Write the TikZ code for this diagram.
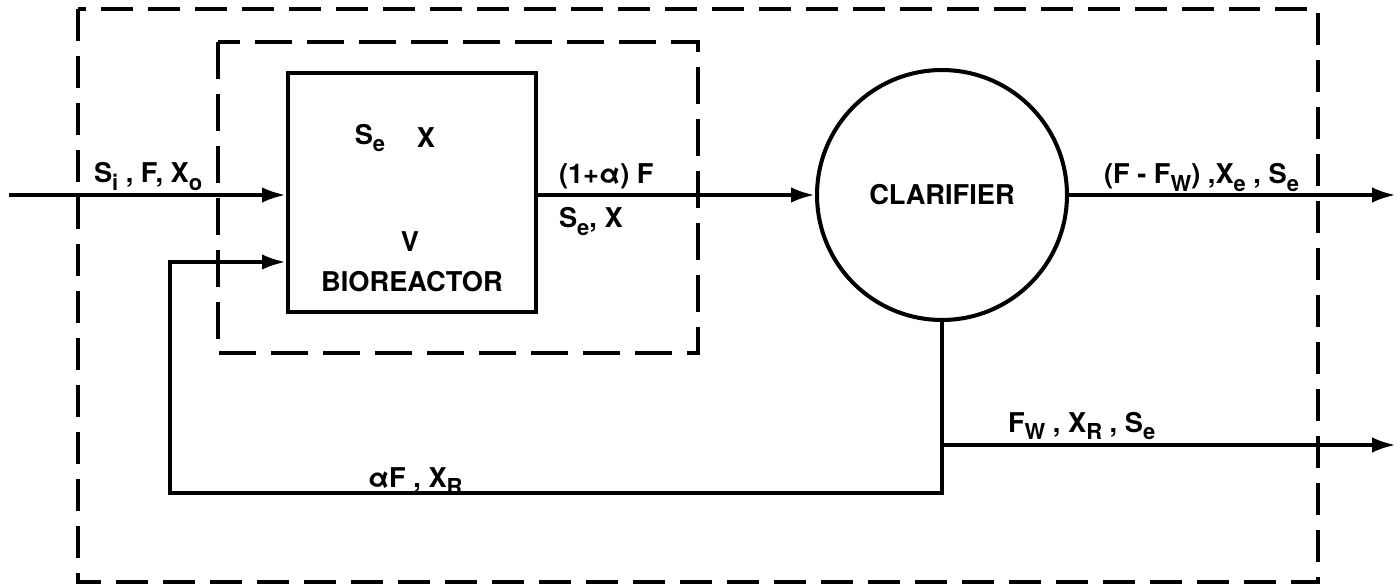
\documentclass[tikz,border=0pt]{standalone}
\usepackage{fontspec}
\setmainfont{TeX Gyre Heros}
\usepackage{tikz}
\usetikzlibrary{arrows.meta, positioning, calc}

\newcommand{\lowidx}[1]{\raisebox{-0.5ex}{\fontsize{12.5}{12.5}\selectfont #1}}

\begin{document}
\begin{tikzpicture}[
    x=0.02cm, y=-0.02cm,
    font=\fontsize{15.5}{18}\selectfont\bfseries,
    line width=2.3pt,
    box/.style={draw, rectangle, minimum width=4.96cm, minimum height=4.78cm},
    tank/.style={draw, circle, minimum size=5cm, inner sep=0pt},
    bound/.style={line width=2pt, dash pattern=on 0.64cm off 0.3cm},
    arrow/.style={-{Latex[length=0.48cm,width=0.31cm]}},
    lbl/.style={anchor=base west, inner sep=0pt}
]
\useasboundingbox (0,0) rectangle (1396,587);

% control volumes
\draw [bound] (78,9) rectangle (1318,582);
\draw [bound, dash pattern=on 0.74cm off 0.3cm] (218,42) rectangle (698,353);

\node (reactor) [box] at (412,192.5) {};
\node (clar) [tank] at (942,195) {CLARIFIER};

\node (se) at (370,138) {S\lowidx{e}};
\node (xx) at (426,138) {X};
\node (vol) at (410,242) {V};
\node (bio) at (412,282) {BIOREACTOR};

\coordinate (feed) at (9,195);
\coordinate (ret) at (170,262);
\coordinate (low) at (942,493);
\coordinate (corner) at (170,493);
\coordinate (split) at (942,445);
\coordinate (effl) at (1396,195);
\coordinate (waste) at (1396,445);

\draw [arrow] (feed) -- (feed -| reactor.west);
\draw [arrow] (clar.south) -- (low) -- (corner) -- (ret) -- (ret -| reactor.west);
\draw [arrow] (reactor.east |- clar.center) -- (clar.west);
\draw [arrow] (clar.east) -- (effl);
\draw [arrow] (split) -- (waste);

% stream labels
\node (feedlbl) [lbl] at (92,183) {S\lowidx{i} ,\ F, X\lowidx{o}};
\node (outlbl) [lbl] at (557,184) {(1+α) F};
\node (outlbl2) [lbl] at (557,228) {S\lowidx{e}, X};
\node (effllbl) [lbl] at (1102,184) {(F - F\lowidx{W}) ,X\lowidx{e} , S\lowidx{e}};
\node (wastelbl) [lbl] at (1006,432) {F\lowidx{W} , X\lowidx{R} , S\lowidx{e}};
\node (reclbl) [lbl] at (366,487) {αF , X\lowidx{R}};
\end{tikzpicture}
\end{document}
